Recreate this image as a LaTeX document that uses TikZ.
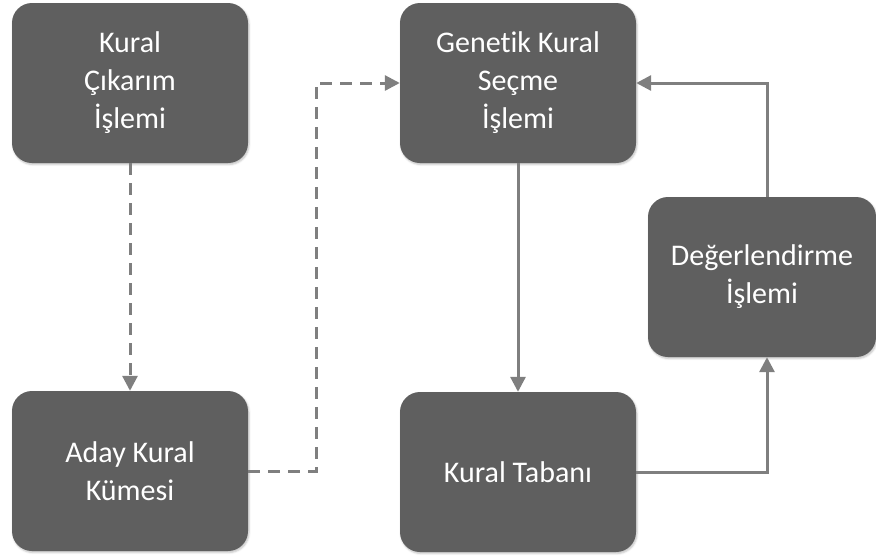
\documentclass[tikz,border=0pt]{standalone}
\usepackage{fontspec}
\setmainfont{Carlito}[Ligatures=NoCommon]
\usetikzlibrary{arrows.meta,shadows.blur}
\definecolor{boxgray}{HTML}{5F5F5F}
\definecolor{linegray}{HTML}{7F7F7F}
\begin{document}
\begin{tikzpicture}[x=1pt,y=-1pt,
  procbox/.style={rectangle, rounded corners=20pt, fill=boxgray, draw=none,
    minimum width=236pt, minimum height=160pt, inner sep=0pt,
    text=white, align=center,
    font=\fontsize{30}{38}\selectfont,
    blur shadow={shadow xshift=1pt, shadow yshift=-1.5pt, shadow blur steps=4, shadow opacity=25}},
  flow/.style={draw=linegray, line width=3pt,
    -{Triangle[length=15pt,width=15pt]}},
  dflow/.style={flow, dash pattern=on 12pt off 8pt}]
\useasboundingbox (0,0) rectangle (876,555);
\node[procbox] (extract) at (130,83) {Kural\\Çıkarım\\İşlemi};
\node[procbox] (candidate) at (130,471) {Aday Kural\\Kümesi};
\node[procbox] (select) at (518,83) {Genetik Kural\\Seçme\\İşlemi};
\node[procbox] (base) at (518,472) {Kural Tabanı};
\node[procbox, minimum width=228pt] (eval) at (762,277) {Değerlendirme\\İşlemi};
\draw[dflow] (extract.south) -- (candidate.north);
\draw[dflow] (candidate.east) -| (316,83) -- (select.west);
\draw[flow] (select.south) -- (base.north);
\draw[flow] (base.east) -| ([xshift=5pt]eval.south);
\draw[flow] ([xshift=5pt]eval.north) |- (select.east);
\end{tikzpicture}
\end{document}
